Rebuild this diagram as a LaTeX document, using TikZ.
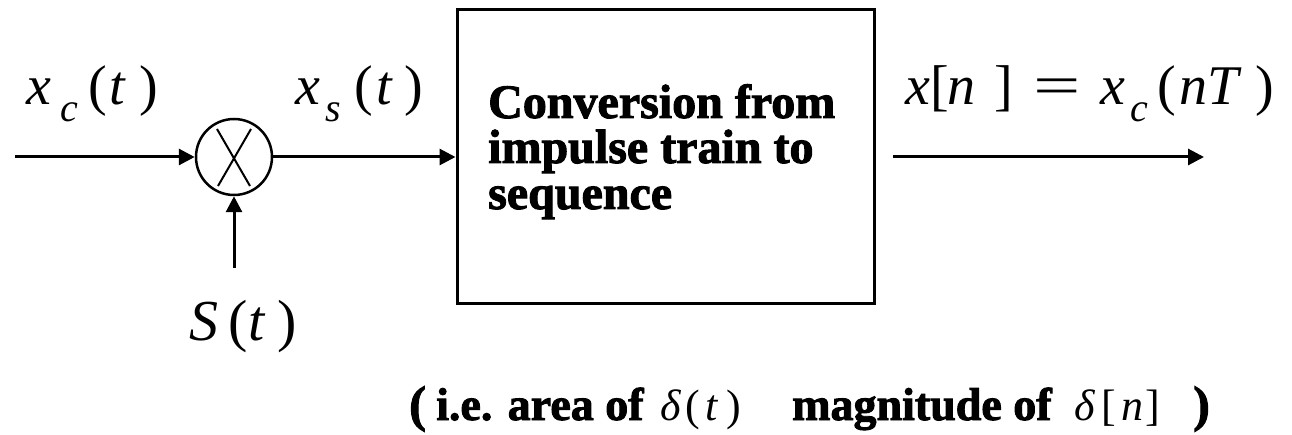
\documentclass[tikz,border=0pt]{standalone}
\usepackage{fontspec}
\setmainfont{Liberation Serif}
\newfontfamily\heavyserif[FakeBold=2]{Liberation Serif Bold}
\usetikzlibrary{arrows.meta}
\newcommand{\lowsub}[1]{\raisebox{-0.3em}{\fontsize{40}{40}\selectfont #1}}
\newcommand{\up}[1]{{\upshape #1}}
\begin{document}
\begin{tikzpicture}[x=1pt,y=-1pt,
  wire/.style={line width=3pt,-{Triangle[length=16pt,width=16pt]}},
  mathlbl/.style={anchor=base west,inner sep=0pt,font=\fontsize{56}{56}\selectfont\itshape},
  boxtext/.style={anchor=base west,inner sep=0pt,font=\fontsize{48}{48}\selectfont\heavyserif},
  notetext/.style={anchor=base west,inner sep=0pt,font=\fontsize{46}{46}\selectfont\heavyserif},
  notemath/.style={anchor=base west,inner sep=0pt,font=\fontsize{44}{44}\selectfont\itshape}]
\useasboundingbox (0,0) rectangle (1292,435);

% multiplier and conversion block
\node (mul) [circle,draw,line width=2.5pt,minimum size=76pt,inner sep=0pt] at (234,157) {};
\draw[line width=2pt] (217,129) -- (250,186) (251,129) -- (218,186);
\node (conv) [draw,line width=3pt,minimum width=417pt,minimum height=294pt,inner sep=0pt] at (665.5,157) {};

% block text
\node (l1) [boxtext] at (488,118) {Conversion from};
\node (l2) [boxtext] at (488,163) {impulse train to};
\node (l3) [boxtext] at (488,209) {sequence};

% signal ends
\coordinate (in) at (15,157);
\coordinate (sin) at (234,268);
\coordinate (outA) at (893,157);
\coordinate (outB) at (1204,157);

\draw[wire] (in) -- (mul.west);
\draw[wire] (mul.east) -- (conv.west);
\draw[wire] (sin) -- (mul.south);
\draw[wire] (outA) -- (outB);

% signal labels
\node (xc) [mathlbl] at (26,105)
  {x\hspace{9pt}\lowsub{c}\hspace{11pt}\up{(}\hspace{2pt}t\hspace{14pt}\up{)}};
\node (xs) [mathlbl] at (295,105)
  {x\hspace{5pt}\lowsub{s}\hspace{14pt}\up{(}\hspace{3pt}t\hspace{13pt}\up{)}};
\node (xn) [mathlbl] at (905,105)
  {x\up{[}\hspace{-1pt}n\hspace{19pt}\up{]}\hspace{20pt}\up{\scalebox{1.5}[1]{=}}\hspace{20pt}x\hspace{5pt}\lowsub{c}\hspace{9pt}\up{(}\hspace{4pt}nT\hspace{16pt}\up{)}};
\node (st) [mathlbl,font=\fontsize{58}{58}\selectfont\itshape] at (189,340)
  {S\hspace{10pt}\up{(}\hspace{1pt}t\hspace{13pt}\up{)}};

% note below the block
\node (nopen) [notetext,font=\fontsize{50}{50}\selectfont\heavyserif] at (409,421) {(};
\node (narea) [notetext] at (436,420) {i.e. area of};
\node (ndt) [notemath] at (660,420) {δ\hspace{5pt}\up{(}\hspace{5pt}t\hspace{9pt}\up{)}};
\node (nmag) [notetext] at (792,420) {magnitude of};
\node (ndn) [notemath] at (1074,420) {δ\hspace{7pt}\up{[}\hspace{5pt}n\hspace{2pt}\up{]}};
\node (nclose) [notetext,font=\fontsize{50}{50}\selectfont\heavyserif] at (1193,421) {)};
\end{tikzpicture}
\end{document}
